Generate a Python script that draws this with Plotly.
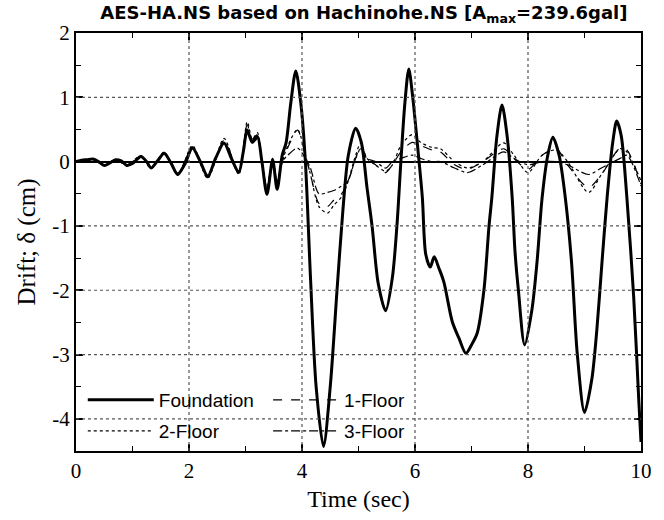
import plotly.graph_objects as go

# ---------------- data ----------------
t_found = [0.00, 0.10, 0.20, 0.30, 0.40, 0.50, 0.60, 0.70, 0.80, 0.90, 1.00, 1.15, 1.25, 1.33,
           1.45, 1.56, 1.68, 1.80, 1.92, 2.06, 2.20, 2.33, 2.47, 2.62, 2.75, 2.88, 2.96, 3.03,
           3.12, 3.21, 3.29, 3.38, 3.48, 3.56, 3.65, 3.72, 3.80, 3.89, 3.98, 4.06, 4.15, 4.25,
           4.38, 4.50, 4.62, 4.72, 4.82, 4.95, 5.05, 5.15, 5.24, 5.35, 5.48, 5.60, 5.68, 5.75,
           5.82, 5.89, 5.96, 6.05, 6.13, 6.19, 6.27, 6.34, 6.42, 6.51, 6.66, 6.78, 6.90, 7.00,
           7.10, 7.22, 7.31, 7.36, 7.45, 7.54, 7.63, 7.72, 7.77, 7.83, 7.94, 8.07, 8.16, 8.25,
           8.35, 8.44, 8.55, 8.66, 8.77, 8.87, 9.00, 9.13, 9.22, 9.31, 9.40, 9.50, 9.57, 9.65,
           9.75, 9.87, 9.96, 10.00]
foundation = [0.00, 0.02, 0.03, 0.04, 0.00, -0.06, -0.02, 0.03, 0.01, -0.06, -0.03, 0.08, 0.00, -0.10,
              0.02, 0.13, -0.02, -0.20, -0.05, 0.21, 0.00, -0.23, 0.05, 0.29, 0.05, -0.17, 0.15, 0.49,
              0.30, 0.39, 0.00, -0.51, 0.03, -0.43, 0.10, 0.30, 0.90, 1.41, 0.90, 0.00, -1.80, -3.50,
              -4.43, -3.50, -2.00, -0.80, 0.10, 0.52, 0.30, -0.40, -1.00, -1.90, -2.32, -1.80, -1.00, 0.00,
              0.90, 1.44, 1.00, 0.20, -0.56, -1.44, -1.64, -1.48, -1.65, -1.87, -2.49, -2.75, -2.98, -2.85,
              -2.67, -2.00, -1.00, -0.56, 0.40, 0.88, 0.40, -0.56, -1.40, -2.00, -2.85, -2.30, -1.56, -0.56,
              0.10, 0.38, 0.10, -0.56, -1.56, -2.97, -3.90, -3.38, -2.60, -1.56, -0.56, 0.30, 0.63, 0.40,
              -0.56, -2.10, -3.70, -4.36]

t_floor = [0, 0.3, 0.5, 0.7, 0.9, 1.15, 1.33, 1.56, 1.8, 2.06, 2.33, 2.62, 2.88, 3.03, 3.12,
           3.21, 3.29, 3.38, 3.48, 3.56, 3.65, 3.75, 3.92, 4.06, 4.15, 4.3, 4.45, 4.56, 4.7, 4.8,
           4.95, 5.04, 5.15, 5.3, 5.48, 5.6, 5.75, 5.95, 6.1, 6.3, 6.45, 6.7, 6.93, 7.2, 7.57,
           7.75, 8.0, 8.25, 8.5, 8.7, 9.07, 9.3, 9.63, 9.75, 10.0]
floor1 = [0, 0.04, -0.06, 0.03, -0.06, 0.08, -0.1, 0.14, -0.2, 0.23, -0.25, 0.33, -0.18, 0.57, 0.35,
          0.42, 0.0, -0.45, 0.05, -0.35, 0.0, 0.22, 0.49, 0.1, -0.2, -0.65, -0.7, -0.6, -0.5, -0.35,
          0.05, 0.25, 0.05, -0.05, -0.17, -0.05, 0.15, 0.3, 0.25, 0.18, 0.15, -0.05, -0.12, 0.0, 0.2,
          0.05, -0.12, 0.1, 0.2, -0.05, -0.4, -0.2, 0.21, 0.18, -0.35]
floor2 = [0, 0.04, -0.06, 0.03, -0.06, 0.09, -0.11, 0.15, -0.21, 0.25, -0.26, 0.36, -0.2, 0.62, 0.35,
          0.45, 0.0, -0.45, 0.05, -0.36, 0.0, 0.25, 0.5, 0.1, -0.2, -0.7, -0.8, -0.68, -0.55, -0.35,
          0.1, 0.29, 0.05, -0.05, -0.15, -0.05, 0.25, 0.42, 0.3, 0.22, 0.2, 0.0, -0.1, 0.0, 0.29,
          0.1, -0.17, 0.1, 0.18, 0.0, -0.48, -0.2, 0.2, 0.15, -0.3]
floor3 = [0, 0.03, -0.05, 0.03, -0.05, 0.08, -0.09, 0.12, -0.18, 0.2, -0.2, 0.3, -0.15, 0.5, 0.3,
          0.35, 0.0, -0.4, 0.03, -0.3, 0.0, 0.1, 0.21, 0.05, -0.1, -0.5, -0.48, -0.45, -0.38, -0.32,
          0.05, 0.2, 0.05, 0.0, -0.1, 0.0, 0.05, 0.1, 0.05, 0.0, 0.0, -0.1, -0.17, -0.05, 0.15,
          0.05, -0.05, 0.0, 0.0, -0.05, -0.2, -0.1, 0.05, 0.1, -0.38]

series_names = ["Foundation", "1-Floor", "2-Floor", "3-Floor"]
x_ticks = [0, 2, 4, 6, 8, 10]
y_ticks = [-4, -3, -2, -1, 0, 1, 2]
x_range = [0, 10]
y_range = [-4.5, 2]

# ---------------- figure ----------------
fig = go.Figure()
styles = [
    (t_found, foundation, 3.0, "solid", "legend"),
    (t_floor, floor1, 1.2, "dash", "legend2"),
    (t_floor, floor2, 1.2, "dot", "legend3"),
    (t_floor, floor3, 1.2, "dashdot", "legend4"),
]
for name, (tx, vy, w, dash, lg) in zip(series_names, styles):
    fig.add_trace(go.Scatter(
        x=tx, y=vy, mode="lines", name=name, legend=lg,
        line=dict(color="black", width=w, dash=dash, shape="spline", smoothing=0.8),
    ))

# dotted grid at the inner major ticks (derived from the tick arrays)
grid_line = dict(color="#555555", width=1.2, dash="dot")
for xv in x_ticks:
    if x_range[0] < xv < x_range[1]:
        fig.add_shape(type="line", xref="x", yref="y", x0=xv, x1=xv, y0=y_range[0], y1=y_range[1],
                      line=grid_line, layer="above")
for yv in y_ticks:
    if y_range[0] < yv < y_range[1] and yv != 0:
        fig.add_shape(type="line", xref="x", yref="y", x0=x_range[0], x1=x_range[1], y0=yv, y1=yv,
                      line=grid_line, layer="above")

legend_font = dict(family="Liberation Sans, Arial, sans-serif", size=19, color="black")
def leg(xp, yp):
    return dict(x=xp, y=yp, xanchor="left", yanchor="middle", xref="paper", yref="paper",
                bgcolor="rgba(0,0,0,0)", borderwidth=0, font=legend_font, itemwidth=66)

fig.update_layout(
    width=664, height=520,
    margin=dict(l=76, r=23, t=33, b=64),
    paper_bgcolor="white", plot_bgcolor="rgba(0,0,0,0)",
    title=dict(
        text="<b>AES-HA.NS based on Hachinohe.NS [A<sub>max</sub>=239.6gal]</b>",
        font=dict(family="DejaVu Sans, Arial, sans-serif", size=18, color="black"),
        x=0.548, xref="container", xanchor="center",
        y=1 - 13 / 520, yref="container", yanchor="middle",
    ),
    legend=leg(0.012, 0.122),
    legend2=leg(0.34, 0.122),
    legend3=leg(0.012, 0.048),
    legend4=leg(0.34, 0.048),
    showlegend=True,
)

axis_font = dict(family="Liberation Serif, Times New Roman, serif", size=21, color="black")
fig.update_layout(
    xaxis=dict(
        range=x_range, tickvals=x_ticks, ticktext=[str(v) for v in x_ticks],
        ticks="inside", ticklen=7, tickwidth=1.5, tickcolor="black",
        minor=dict(ticks="inside", dtick=1, ticklen=5, tickwidth=1.2, tickcolor="black", showgrid=False),
        showline=True, linecolor="black", linewidth=2, mirror="ticks",
        showgrid=False, zeroline=False,
        tickfont=axis_font,
        title=dict(text="Time (sec)", font=dict(family="Liberation Serif, Times New Roman, serif", size=24, color="black"), standoff=8),
    ),
    yaxis=dict(
        range=y_range, tickvals=y_ticks, ticktext=[str(v) for v in y_ticks],
        ticks="inside", ticklen=7, tickwidth=1.5, tickcolor="black",
        minor=dict(ticks="inside", dtick=0.5, ticklen=5, tickwidth=1.2, tickcolor="black", showgrid=False),
        showline=True, linecolor="black", linewidth=2, mirror="ticks",
        showgrid=False,
        zeroline=True, zerolinecolor="black", zerolinewidth=1.5,
        tickfont=axis_font,
        title=dict(text="Drift; δ (cm)", font=dict(family="Liberation Serif, Times New Roman, serif", size=25, color="black"), standoff=10),
    ),
)

fig.write_html("out.html")
